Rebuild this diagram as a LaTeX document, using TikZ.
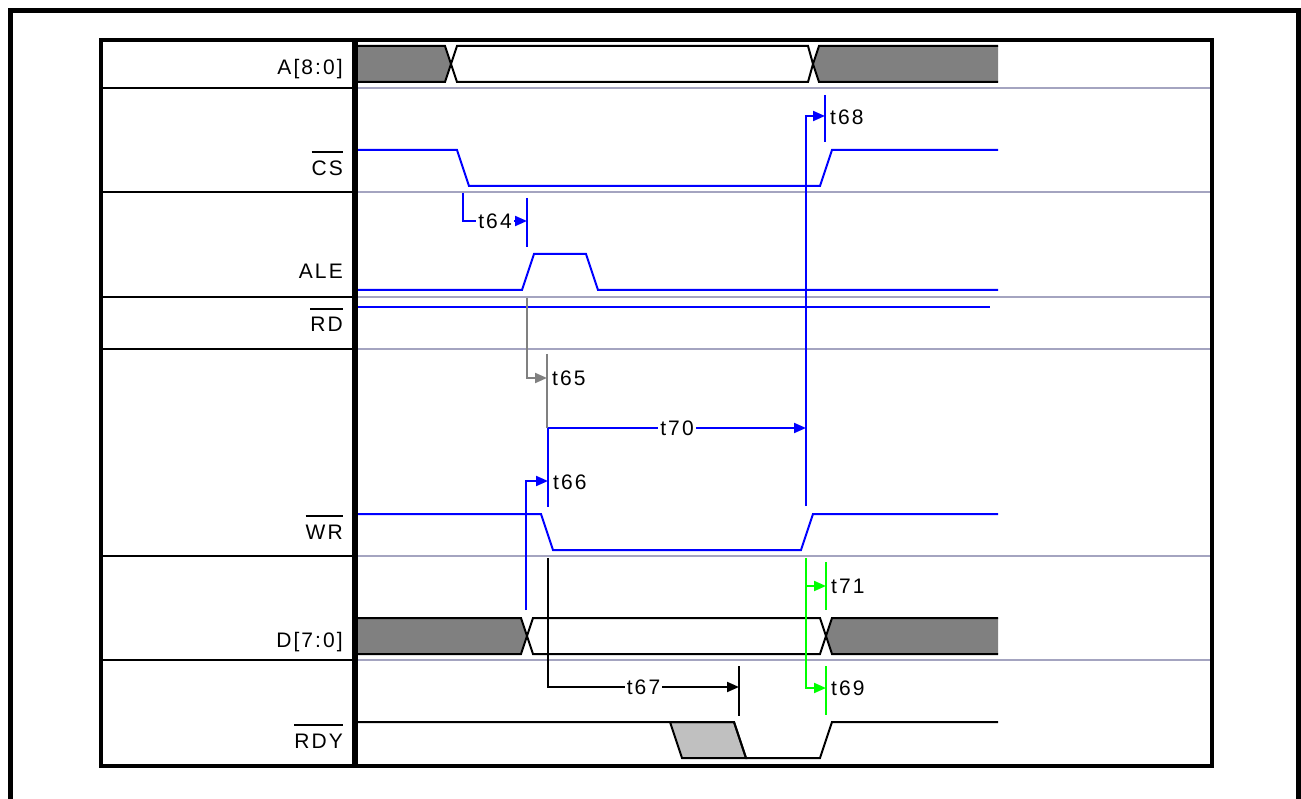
\documentclass[tikz,border=0pt]{standalone}
\usepackage{fontspec}
\setmainfont{Liberation Sans}[LetterSpace=10]
\usetikzlibrary{arrows.meta}
\definecolor{rejilla}{HTML}{A4A4C0}
\definecolor{bus}{HTML}{808080}
\definecolor{gris}{HTML}{808080}
\definecolor{sombra}{HTML}{C0C0C0}
\definecolor{verde}{HTML}{00FF00}
\newcommand{\negado}[1]{\vbox{\hrule height 2pt\kern 8pt\hbox{#1}}}
\tikzset{
  senal/.style={line width=2pt},
  cota/.style={line width=2pt, -{Triangle[length=12pt,width=10pt]}},
  marca/.style={line width=2pt},
  etiqueta/.style={anchor=base east, inner sep=0pt},
  tiempo/.style={anchor=west, inner sep=0pt, text=black},
  entre/.style={fill=white, text=black, inner xsep=2pt, inner ysep=1pt},
}
\begin{document}
\begin{tikzpicture}[x=1pt, y=-1pt, font=\fontsize{21}{25}\selectfont]
	\useasboundingbox (0,0) rectangle (1301,799);
	\draw[line width=5pt] (10.5,805) -- (10.5,10.5) -- (1298.5,10.5) -- (1298.5,805); % marco de fuera
	\foreach \y in {88,192,297,349,556,660}{
		\draw[line width=2pt] (101,\y) -- (355,\y);
		\draw[rejilla, line width=2pt] (355,\y) -- (1212,\y);
	}
	\draw[line width=4pt] (101,40) rectangle (1212,766);
	\draw[line width=6pt] (355,40) -- (355,766);
	% nombres de las senales
	\node[etiqueta] (nA) at (343,75) {A[8:0]};
	\node[etiqueta] (nCS) at (343,176) {\negado{CS}};
	\node[etiqueta] (nALE) at (343,279) {ALE};
	\node[etiqueta] (nRD) at (343,332) {\negado{RD}};
	\node[etiqueta] (nWR) at (343,539) {\negado{WR}};
	\node[etiqueta] (nD) at (343,647) {D[7:0]};
	\node[etiqueta] (nRDY) at (343,748) {\negado{RDY}};
	% bus de direcciones
	\fill[bus] (358,46) -- (445,46) -- (451,64) -- (445,82) -- (358,82) -- cycle;
	\draw[senal] (358,46) -- (445,46) -- (451,64) -- (445,82) -- (358,82);
	\draw[senal] (457,46) -- (808,46) -- (813,64) -- (808,82) -- (457,82) -- (451,64) -- cycle;
	\fill[bus] (998,46) -- (819,46) -- (813,64) -- (819,82) -- (998,82) -- cycle;
	\draw[senal] (998,46) -- (819,46) -- (813,64) -- (819,82) -- (998,82);
	% senales de control
	\draw[blue, senal] (358,150) -- (457,150) -- (469,186) -- (820,186) -- (832,150) -- (998,150);
	\draw[blue, senal] (358,290) -- (522,290) -- (534,254) -- (586,254) -- (598,290) -- (998,290);
	\draw[blue, senal] (358,307) -- (990,307);
	\draw[blue, senal] (358,514) -- (541,514) -- (553,550) -- (801,550) -- (813,514) -- (998,514);
	% bus de datos
	\fill[bus] (358,618) -- (521,618) -- (527,636) -- (521,654) -- (358,654) -- cycle;
	\draw[senal] (358,618) -- (521,618) -- (527,636) -- (521,654) -- (358,654);
	\draw[senal] (533,618) -- (820,618) -- (826,636) -- (820,654) -- (533,654) -- (527,636) -- cycle;
	\fill[bus] (998,618) -- (832,618) -- (826,636) -- (832,654) -- (998,654) -- cycle;
	\draw[senal] (998,618) -- (832,618) -- (826,636) -- (832,654) -- (998,654);
	% listo
	\filldraw[fill=sombra, senal] (670,722) -- (734,722) -- (746,758) -- (682,758) -- cycle;
	\draw[senal] (358,722) -- (734,722) -- (746,758) -- (820,758) -- (832,722) -- (998,722);
	% tiempos
	\draw[blue, cota] (463,193) |- node[entre, pos=.75] (t64) {t64} (527,221);
	\draw[blue, marca] (527,198) -- (527,247);
	\draw[gris, cota] (527,298) |- (547,378);
	\draw[gris, marca] (547,354) -- (547,428);
	\node[tiempo] (t65) at (552,378) {t65};
	\draw[blue, cota] (526,610) |- (548,481);
	\draw[blue, marca] (548,428) -- (548,507);
	\node[tiempo] (t66) at (553,482) {t66};
	\draw[blue, cota] (548,428) -- node[entre] (t70) {t70} (806,428);
	\draw[blue, cota] (806,506) |- (825,116);
	\draw[blue, marca] (825,95) -- (825,142);
	\node[tiempo] (t68) at (830,117) {t68};
	\draw[cota] (548,558) |- node[entre, pos=.75] (t67) {t67} (739,687);
	\draw[marca] (739,666) -- (739,716);
	\draw[verde, cota] (806,558) |- (826,586);
	\draw[verde, marca] (826,562) -- (826,610);
	\node[tiempo] (t71) at (831,586) {t71};
	\draw[verde, cota] (806,558) |- (826,688);
	\draw[verde, marca] (826,666) -- (826,715);
	\node[tiempo] (t69) at (831,688) {t69};
\end{tikzpicture}
\end{document}
